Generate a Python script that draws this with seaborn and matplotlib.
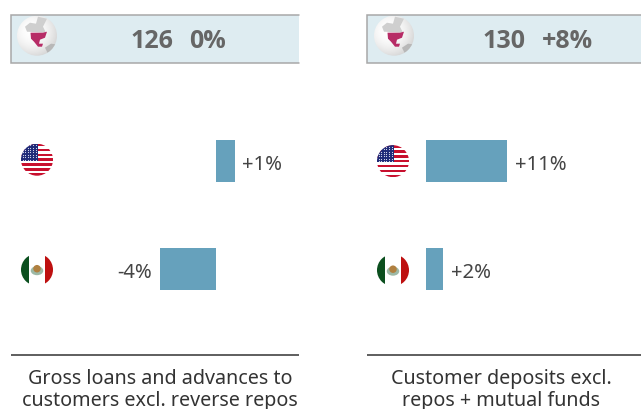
import numpy as np
import pandas as pd
import seaborn as sns
import matplotlib
matplotlib.use("Agg")
import matplotlib.pyplot as plt
from matplotlib.patches import Circle, Rectangle, Polygon, Ellipse

regions = ["United States", "Mexico"]
loans_values = [1.36, -4.0]
deposits_values = [11.0, 2.3]
loans_labels = ["+1%", "-4%"]
deposits_labels = ["+11%", "+2%"]
header_left = ["126", "0%"]
header_right = ["130", "+8%"]
title_left = ["Gross loans and advances to", "customers excl. reverse repos"]
title_right = ["Customer deposits excl.", "repos + mutual funds"]

BAR = "#66A1BC"
HEAD = "#DEECF1"
EDGE = "#A8A8A8"
TXT = "#444444"
HTXT = "#666666"
FONT = "Noto Sans"

sns.set_theme(style="white")
plt.rcParams["font.family"] = [FONT, "DejaVu Sans"]

W, H = 641, 410
OFF = 0.7
fig = plt.figure(figsize=(W / 100, H / 100), dpi=100, facecolor="white")


def px_axes(x0, x1, y0, y1, **kw):
    return fig.add_axes([x0 / W, 1 - y1 / H, (x1 - x0) / W, (y1 - y0) / H], **kw)


def bars(x0, x1, zero, scale, values, labels):
    ax = px_axes(x0, x1, 108, 324.5)
    ax.patch.set_alpha(0)
    df = pd.DataFrame({"region": regions, "value": values})
    sns.barplot(data=df, y="region", x="value", orient="h", color=BAR,
                saturation=1, width=0.388, linewidth=0, ax=ax)
    ax.set_xlim((x0 - zero) / scale, (x1 - zero) / scale)
    ax.set_ylim(1.5, -0.5)
    ax.set_xlabel("")
    ax.set_ylabel("")
    ax.set_xticks([])
    ax.set_yticks([])
    sns.despine(ax=ax, left=True, bottom=True)
    for i, (v, lab) in enumerate(zip(values, labels)):
        sign = 1 if v >= 0 else -1
        ax.annotate(lab, (v, i), xytext=(sign * 5.5, -2.2), textcoords="offset points",
                    ha="left" if sign > 0 else "right", va="center",
                    fontsize=14.6, color=TXT)
    return ax


bars(11, 299, 215.8, 14.0, loans_values, loans_labels)
bars(367, 641, 426, 7.36, deposits_values, deposits_labels)

ov = fig.add_axes([0, 0, 1, 1], zorder=5)
ov.set_xlim(0, W)
ov.set_ylim(H - OFF, -OFF)
ov.axis("off")
ov.patch.set_alpha(0)


def clip(circle, artists):
    for a in artists:
        a.set_clip_path(circle)


def us_flag(cx, cy, r=16):
    c = Circle((cx, cy), r, fc="white", ec="none")
    ov.add_patch(c)
    arts = []
    n = 13
    h = 2 * r / n
    for i in range(0, n, 2):
        arts.append(ov.add_patch(Rectangle((cx - r, cy - r + i * h), 2 * r, h, fc="#C8102E", ec="none")))
    arts.append(ov.add_patch(Rectangle((cx - r, cy - r), r + 1, 7 * h, fc="#1F2A78", ec="none")))
    xs, ys = np.meshgrid(np.arange(cx - r + 1.5, cx + 1, 2.6), np.arange(cy - r + 1.5, cy + 0.5, 2.4))
    arts.append(ov.scatter(xs.ravel(), ys.ravel(), s=0.7, c="#DDE0F0", linewidths=0))
    clip(c, arts)


def mx_flag(cx, cy, r=16):
    c = Circle((cx, cy), r, fc="white", ec="none")
    ov.add_patch(c)
    arts = [ov.add_patch(Rectangle((cx - r, cy - r), r * 0.52, 2 * r, fc="#0B4F1E", ec="none")),
            ov.add_patch(Rectangle((cx + r * 0.48, cy - r), r * 0.52, 2 * r, fc="#BE1010", ec="none"))]
    clip(c, arts)
    ov.add_patch(Ellipse((cx, cy + 1), 12.5, 9, fc="#9DB9A6", ec="none"))
    ov.add_patch(Ellipse((cx, cy - 1), 7.5, 7.5, fc="#B08040", ec="none"))


def globe(cx, cy, r=20):
    yy, xx = np.mgrid[-1:1:80j, -1:1:80j]
    d = np.sqrt((xx + 0.25) ** 2 + (yy + 0.25) ** 2)
    shade = np.clip(1.0 - 0.09 * d ** 2, 0, 1)
    c = Circle((cx, cy), r, fc="none", ec="none")
    ov.add_patch(c)
    im = ov.imshow(shade, cmap="gray", vmin=0, vmax=1, extent=(cx - r, cx + r, cy + r, cy - r),
                   interpolation="bilinear", aspect="auto", zorder=1)
    im.set_clip_path(c)
    arts = [
        ov.add_patch(Polygon([(cx - 10, cy - 4), (cx - 12, cy - 9), (cx - 7, cy - 13), (cx - 1, cy - 12),
                              (cx + 1, cy - 19), (cx + 10, cy - 17), (cx + 6, cy - 9), (cx + 9, cy - 3)],
                             fc="#CFCFCF", ec="none", zorder=2)),
        ov.add_patch(Polygon([(cx + 8, cy + 12), (cx + 14, cy + 8), (cx + 22, cy + 9), (cx + 20, cy + 20), (cx + 11, cy + 18)],
                             fc="#B8B8B8", ec="none", zorder=2)),
    ]
    clip(c, arts)
    ov.add_patch(Polygon([(cx - 6.5, cy - 3), (cx + 6, cy - 3), (cx + 10, cy - 4), (cx + 8, cy + 2), (cx + 3, cy + 4),
                          (cx + 2, cy + 8), (cx + 6, cy + 8), (cx + 5, cy + 11), (cx + 1, cy + 11), (cx - 3, cy + 6), (cx - 6, cy + 3)],
                         fc="#B72C66", ec="none", zorder=3))
    ov.set_xlim(0, W)
    ov.set_ylim(H - OFF, -OFF)


def header(x0, x1, y0, y1, texts, tx):
    ov.add_patch(Rectangle((x0, y0), x1 - x0, y1 - y0, fc=HEAD, ec="none", zorder=0))
    ov.plot([x1, x0, x0, x1], [y0, y0, y1, y1], color=EDGE, lw=1.1, zorder=1, solid_joinstyle="miter")
    for t, x in zip(texts, tx):
        ov.text(x, (y0 + y1) / 2 + 1.5, t, ha="center", va="center", fontsize=18,
                family=["Open Sans", "DejaVu Sans"], fontweight="bold", color=HTXT, zorder=4)


header(11, 299, 15, 63, header_left, [151.5, 207.5])
header(367, 641, 15, 63, header_right, [503.5, 567])
globe(37, 36)
globe(394, 36)
us_flag(37, 160)
mx_flag(37, 270)
us_flag(393, 161.5)
mx_flag(393, 270.5)

for x0, x1, lines, xc in [(11, 299, title_left, 160), (367, 641, title_right, 501.5)]:
    ov.plot([x0, x1], [355, 355], color="#333333", lw=1.1, solid_capstyle="butt")
    ov.text(xc, 378.5, lines[0], ha="center", va="center", fontsize=14.2, color="#333333")
    ov.text(xc, 400.5, lines[1], ha="center", va="center", fontsize=14.2, color="#333333")

fig.savefig("out.png", dpi=100)
